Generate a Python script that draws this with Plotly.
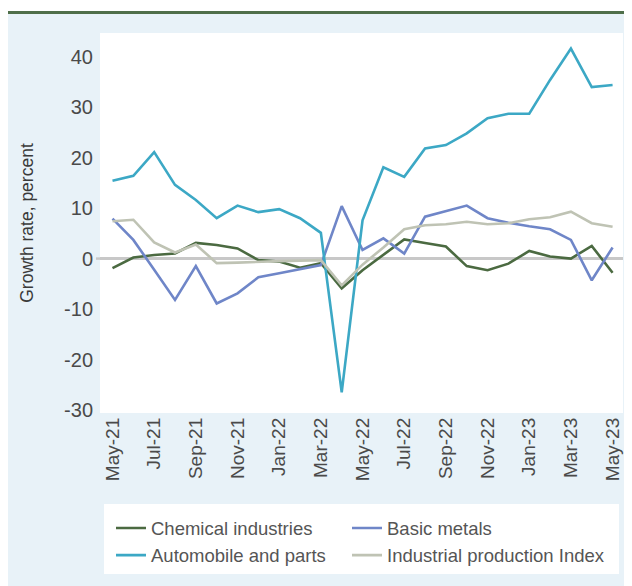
import plotly.graph_objects as go

# monthly growth rates, May-21 .. May-23
months = ["May-21", "Jun-21", "Jul-21", "Aug-21", "Sep-21", "Oct-21", "Nov-21", "Dec-21",
          "Jan-22", "Feb-22", "Mar-22", "Apr-22", "May-22", "Jun-22", "Jul-22", "Aug-22",
          "Sep-22", "Oct-22", "Nov-22", "Dec-22", "Jan-23", "Feb-23", "Mar-23", "Apr-23", "May-23"]

chemical = [-1.9, 0.2, 0.7, 1.0, 3.1, 2.7, 2.0, -0.3, -0.6, -1.8, -0.9, -5.9, -2.3,
            0.7, 3.8, 3.1, 2.4, -1.5, -2.3, -1.0, 1.5, 0.4, 0.0, 2.5, -2.8]
basic_metals = [7.9, 3.7, -2.2, -8.2, -1.5, -8.9, -6.9, -3.7, -2.9, -2.1, -1.3, 10.4, 1.7,
                4.0, 1.0, 8.3, 9.4, 10.5, 8.0, 7.1, 6.4, 5.8, 3.7, -4.3, 2.2]
automobile = [15.4, 16.4, 21.1, 14.6, 11.6, 8.0, 10.5, 9.2, 9.8, 8.0, 5.1, -26.5, 7.6,
              18.1, 16.2, 21.8, 22.5, 24.8, 27.8, 28.7, 28.7, 35.4, 41.6, 34.0, 34.4]
industrial = [7.4, 7.7, 3.2, 1.2, 2.8, -0.9, -0.8, -0.6, -0.5, -0.4, -0.3, -5.3, -1.2,
              2.2, 5.8, 6.6, 6.8, 7.3, 6.8, 7.0, 7.8, 8.2, 9.3, 7.0, 6.3]

y_ticks = [-30, -20, -10, 0, 10, 20, 30, 40]
y_ticktext = ["-30", "-20", "-10", "0", "10", "20", "30", "40"]

# name, values, colour, legend column
series = [
    ("Chemical industries", chemical, "#4b6a41", "legend"),
    ("Basic metals", basic_metals, "#6f86c8", "legend2"),
    ("Automobile and parts", automobile, "#3ca8c5", "legend"),
    ("Industrial production Index", industrial, "#bfc3b4", "legend2"),
]

# the page puts the figure 8px in from the top-left corner
OFF = 8
W, H = 632 - OFF, 586 - OFF
L, R, T, B = 92, 9, 25, 173
PW, PH = W - L - R, H - T - B
BG = "#e8f2f8"
FONT = "Liberation Sans, Arial, sans-serif"


def px(x, y):
    """page pixel position -> paper coordinates"""
    return (x - OFF - L) / PW, (H - B - (y - OFF)) / PH


fig = go.Figure()
for name, vals, color, leg in series:
    fig.add_trace(go.Scatter(x=months, y=vals, name=name, mode="lines", legend=leg,
                             line=dict(color=color, width=2.6)))

shapes = []
# white above the rule
x0, y0 = px(0, 8)
x1, y1 = px(640, 11)
shapes.append(dict(type="rect", xref="paper", yref="paper", x0=x0, x1=x1, y0=y1, y1=y0,
                   fillcolor="white", line_width=0, layer="below"))
# top green rule
x0, y0 = px(8, 12.5)
x1, _ = px(640, 12.5)
shapes.append(dict(type="line", xref="paper", yref="paper", x0=x0, x1=x1, y0=y0, y1=y0,
                   line=dict(color="#4f6f4a", width=3)))
# legend box
x0, y0 = px(104, 504)
x1, y1 = px(619, 574)
shapes.append(dict(type="rect", xref="paper", yref="paper", x0=x0, x1=x1, y0=y1, y1=y0,
                   fillcolor="white", line_width=0, layer="below"))
# little stub of the zero line left of the axis
x0, _ = px(96, 0)
shapes.append(dict(type="line", xref="paper", yref="y", x0=x0, x1=0, y0=0, y1=0,
                   line=dict(color="#c8c8c8", width=2.5)))

leg_font = dict(size=18.5, color="#555555")
l1x, ly = px(111, 509.5)
l2x, _ = px(347, 509.5)

fig.update_layout(
    width=W, height=H,
    margin=dict(l=L, r=R, t=T, b=B),
    paper_bgcolor=BG, plot_bgcolor="white",
    font=dict(family=FONT, color="#4a4a4a"),
    shapes=shapes,
    showlegend=True,
    legend=dict(x=l1x, y=ly, xanchor="left", yanchor="top", bgcolor="rgba(0,0,0,0)",
                font=leg_font, itemwidth=30, tracegroupgap=0),
    legend2=dict(x=l2x, y=ly, xanchor="left", yanchor="top", bgcolor="rgba(0,0,0,0)",
                 font=leg_font, itemwidth=30, tracegroupgap=0),
    xaxis=dict(type="category", range=[-0.6, 24.5], showgrid=False, zeroline=False,
               tickvals=months[::2], ticktext=months[::2], tickangle=-90,
               tickfont=dict(size=19, color="#4a4a4a"), ticks="", showline=False),
    yaxis=dict(range=[-30.6, 44.7], showgrid=False, zeroline=True,
               tickvals=y_ticks, ticktext=y_ticktext,
               zerolinecolor="#c8c8c8", zerolinewidth=2.5, showline=False, ticks="",
               tickfont=dict(size=20, color="#4a4a4a"), ticklabelstandoff=6,
               title=dict(text="Growth rate, percent", standoff=25,
                          font=dict(size=17.5, color="#3a3a3a"))),
)

fig.write_html("out.html")
